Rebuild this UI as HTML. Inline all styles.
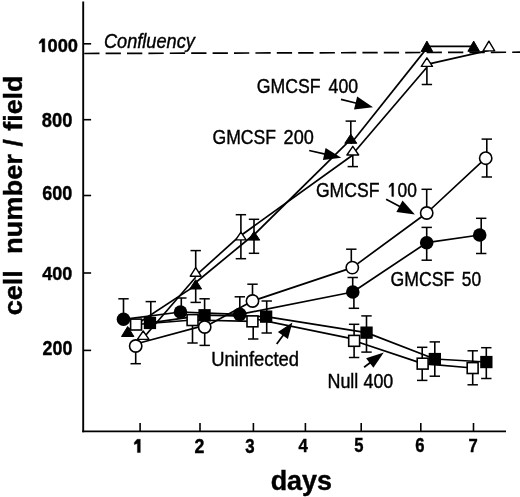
<!DOCTYPE html>
<html><head><meta charset="utf-8"><style>
html,body{margin:0;padding:0;background:#fff;}
svg{display:block;filter:grayscale(1);}
text{font-family:"Liberation Sans",sans-serif;fill:#000;stroke:#000;stroke-width:0.4px;font-kerning:none;}
</style></head><body>
<svg width="520" height="497" viewBox="0 0 520 497">
<rect width="520" height="497" fill="#fff"/>
<line x1="83.2" y1="1.5" x2="83.2" y2="432.2" stroke="#000" stroke-width="1.9"/>
<line x1="82.3" y1="431.4" x2="506.0" y2="431.4" stroke="#000" stroke-width="1.7"/>
<line x1="84.0" y1="43.8" x2="91.1" y2="43.8" stroke="#000" stroke-width="1.6"/>
<line x1="84.0" y1="119.7" x2="91.1" y2="119.7" stroke="#000" stroke-width="1.6"/>
<line x1="84.0" y1="195.5" x2="91.1" y2="195.5" stroke="#000" stroke-width="1.6"/>
<line x1="84.0" y1="273.0" x2="91.1" y2="273.0" stroke="#000" stroke-width="1.6"/>
<line x1="84.0" y1="350.4" x2="91.1" y2="350.4" stroke="#000" stroke-width="1.6"/>
<line x1="140.1" y1="423.0" x2="140.1" y2="431.0" stroke="#000" stroke-width="1.6"/>
<line x1="200.0" y1="423.0" x2="200.0" y2="431.0" stroke="#000" stroke-width="1.6"/>
<line x1="253.4" y1="423.0" x2="253.4" y2="431.0" stroke="#000" stroke-width="1.6"/>
<line x1="305.4" y1="423.0" x2="305.4" y2="431.0" stroke="#000" stroke-width="1.6"/>
<line x1="361.2" y1="423.0" x2="361.2" y2="431.0" stroke="#000" stroke-width="1.6"/>
<line x1="420.8" y1="423.0" x2="420.8" y2="431.0" stroke="#000" stroke-width="1.6"/>
<line x1="473.5" y1="423.0" x2="473.5" y2="431.0" stroke="#000" stroke-width="1.6"/>
<line x1="84.2" y1="53.5" x2="522" y2="52.2" stroke="#000" stroke-width="1.7" stroke-dasharray="15.3 6.1"/>
<line x1="127.7" y1="330.0" x2="195.7" y2="285.4" stroke="#000" stroke-width="1.7"/>
<line x1="195.7" y1="282.5" x2="254.0" y2="234.5" stroke="#000" stroke-width="1.7"/>
<line x1="254.0" y1="234.8" x2="350.8" y2="139.3" stroke="#000" stroke-width="1.7"/>
<line x1="350.8" y1="143.8" x2="426.9" y2="48.1" stroke="#000" stroke-width="1.7"/>
<line x1="426.9" y1="46.3" x2="473.7" y2="46.3" stroke="#000" stroke-width="1.7"/>
<line x1="143.1" y1="338.3" x2="195.7" y2="277.2" stroke="#000" stroke-width="1.7"/>
<line x1="195.7" y1="275.6" x2="240.9" y2="234.9" stroke="#000" stroke-width="1.7"/>
<line x1="240.9" y1="235.5" x2="352.8" y2="155.0" stroke="#000" stroke-width="1.7"/>
<line x1="352.8" y1="154.0" x2="426.9" y2="67.3" stroke="#000" stroke-width="1.7"/>
<line x1="426.9" y1="64.4" x2="488.9" y2="50.4" stroke="#000" stroke-width="1.7"/>
<line x1="135.7" y1="344.0" x2="204.7" y2="325.4" stroke="#000" stroke-width="1.7"/>
<polyline points="204.7,327.0 252.5,301.0 352.3,267.6 426.7,213.0 485.7,158.2" fill="none" stroke="#000" stroke-width="1.7" stroke-linejoin="round"/>
<polyline points="123.5,319.3 180.5,312.0 239.8,314.4 352.8,292.0 426.7,242.7 479.7,235.0" fill="none" stroke="#000" stroke-width="1.7" stroke-linejoin="round"/>
<polyline points="136.0,324.5 192.5,320.0 252.4,321.4" fill="none" stroke="#000" stroke-width="1.7" stroke-linejoin="round"/>
<line x1="252.4" y1="318.3" x2="354.1" y2="339.2" stroke="#000" stroke-width="1.7"/>
<polyline points="354.1,340.8 422.7,363.6 472.7,368.0" fill="none" stroke="#000" stroke-width="1.7" stroke-linejoin="round"/>
<polyline points="150.0,322.9 204.6,315.2 266.1,316.6 366.5,332.6 434.8,359.0 486.3,362.0" fill="none" stroke="#000" stroke-width="1.7" stroke-linejoin="round"/>
<line x1="195.7" y1="285.0" x2="195.7" y2="302.4" stroke="#000" stroke-width="1.6"/>
<line x1="190.5" y1="302.4" x2="200.9" y2="302.4" stroke="#000" stroke-width="1.5"/>
<line x1="254.0" y1="236.0" x2="254.0" y2="219.3" stroke="#000" stroke-width="1.6"/>
<line x1="248.8" y1="219.3" x2="259.2" y2="219.3" stroke="#000" stroke-width="1.5"/>
<line x1="254.0" y1="236.0" x2="254.0" y2="253.3" stroke="#000" stroke-width="1.6"/>
<line x1="248.8" y1="253.3" x2="259.2" y2="253.3" stroke="#000" stroke-width="1.5"/>
<line x1="350.8" y1="139.0" x2="350.8" y2="121.1" stroke="#000" stroke-width="1.6"/>
<line x1="345.6" y1="121.1" x2="356.0" y2="121.1" stroke="#000" stroke-width="1.5"/>
<line x1="195.7" y1="272.0" x2="195.7" y2="250.6" stroke="#000" stroke-width="1.6"/>
<line x1="190.5" y1="250.6" x2="200.9" y2="250.6" stroke="#000" stroke-width="1.5"/>
<line x1="240.9" y1="236.0" x2="240.9" y2="214.7" stroke="#000" stroke-width="1.6"/>
<line x1="235.7" y1="214.7" x2="246.1" y2="214.7" stroke="#000" stroke-width="1.5"/>
<line x1="240.9" y1="236.0" x2="240.9" y2="258.7" stroke="#000" stroke-width="1.6"/>
<line x1="235.7" y1="258.7" x2="246.1" y2="258.7" stroke="#000" stroke-width="1.5"/>
<line x1="352.8" y1="150.0" x2="352.8" y2="166.6" stroke="#000" stroke-width="1.6"/>
<line x1="347.6" y1="166.6" x2="358.0" y2="166.6" stroke="#000" stroke-width="1.5"/>
<line x1="426.9" y1="62.0" x2="426.9" y2="84.5" stroke="#000" stroke-width="1.6"/>
<line x1="421.7" y1="84.5" x2="432.1" y2="84.5" stroke="#000" stroke-width="1.5"/>
<line x1="135.7" y1="346.0" x2="135.7" y2="363.7" stroke="#000" stroke-width="1.6"/>
<line x1="130.5" y1="363.7" x2="140.9" y2="363.7" stroke="#000" stroke-width="1.5"/>
<line x1="204.7" y1="327.0" x2="204.7" y2="345.4" stroke="#000" stroke-width="1.6"/>
<line x1="199.5" y1="345.4" x2="209.9" y2="345.4" stroke="#000" stroke-width="1.5"/>
<line x1="252.5" y1="301.0" x2="252.5" y2="284.2" stroke="#000" stroke-width="1.6"/>
<line x1="247.3" y1="284.2" x2="257.7" y2="284.2" stroke="#000" stroke-width="1.5"/>
<line x1="351.3" y1="267.8" x2="351.3" y2="249.2" stroke="#000" stroke-width="1.6"/>
<line x1="346.1" y1="249.2" x2="356.5" y2="249.2" stroke="#000" stroke-width="1.5"/>
<line x1="426.7" y1="213.0" x2="426.7" y2="189.3" stroke="#000" stroke-width="1.6"/>
<line x1="421.5" y1="189.3" x2="431.9" y2="189.3" stroke="#000" stroke-width="1.5"/>
<line x1="486.8" y1="158.2" x2="486.8" y2="139.1" stroke="#000" stroke-width="1.6"/>
<line x1="481.6" y1="139.1" x2="492.0" y2="139.1" stroke="#000" stroke-width="1.5"/>
<line x1="486.8" y1="158.2" x2="486.8" y2="177.0" stroke="#000" stroke-width="1.6"/>
<line x1="481.6" y1="177.0" x2="492.0" y2="177.0" stroke="#000" stroke-width="1.5"/>
<line x1="123.5" y1="319.3" x2="123.5" y2="298.8" stroke="#000" stroke-width="1.6"/>
<line x1="118.3" y1="298.8" x2="128.7" y2="298.8" stroke="#000" stroke-width="1.5"/>
<line x1="181.3" y1="312.0" x2="181.3" y2="298.0" stroke="#000" stroke-width="1.6"/>
<line x1="176.1" y1="298.0" x2="186.5" y2="298.0" stroke="#000" stroke-width="1.5"/>
<line x1="239.8" y1="314.4" x2="239.8" y2="296.8" stroke="#000" stroke-width="1.6"/>
<line x1="234.6" y1="296.8" x2="245.0" y2="296.8" stroke="#000" stroke-width="1.5"/>
<line x1="352.7" y1="292.0" x2="352.7" y2="277.5" stroke="#000" stroke-width="1.6"/>
<line x1="347.5" y1="277.5" x2="357.9" y2="277.5" stroke="#000" stroke-width="1.5"/>
<line x1="353.9" y1="292.0" x2="353.9" y2="308.3" stroke="#000" stroke-width="1.6"/>
<line x1="348.7" y1="308.3" x2="359.1" y2="308.3" stroke="#000" stroke-width="1.5"/>
<line x1="426.7" y1="242.7" x2="426.7" y2="227.4" stroke="#000" stroke-width="1.6"/>
<line x1="421.5" y1="227.4" x2="431.9" y2="227.4" stroke="#000" stroke-width="1.5"/>
<line x1="426.7" y1="242.7" x2="426.7" y2="260.2" stroke="#000" stroke-width="1.6"/>
<line x1="421.5" y1="260.2" x2="431.9" y2="260.2" stroke="#000" stroke-width="1.5"/>
<line x1="481.2" y1="235.0" x2="481.2" y2="218.3" stroke="#000" stroke-width="1.6"/>
<line x1="476.0" y1="218.3" x2="486.4" y2="218.3" stroke="#000" stroke-width="1.5"/>
<line x1="481.2" y1="235.0" x2="481.2" y2="253.5" stroke="#000" stroke-width="1.6"/>
<line x1="476.0" y1="253.5" x2="486.4" y2="253.5" stroke="#000" stroke-width="1.5"/>
<line x1="192.5" y1="320.0" x2="192.5" y2="343.0" stroke="#000" stroke-width="1.6"/>
<line x1="187.3" y1="343.0" x2="197.7" y2="343.0" stroke="#000" stroke-width="1.5"/>
<line x1="253.2" y1="321.4" x2="253.2" y2="339.0" stroke="#000" stroke-width="1.6"/>
<line x1="248.0" y1="339.0" x2="258.4" y2="339.0" stroke="#000" stroke-width="1.5"/>
<line x1="354.1" y1="340.8" x2="354.1" y2="324.3" stroke="#000" stroke-width="1.6"/>
<line x1="348.9" y1="324.3" x2="359.3" y2="324.3" stroke="#000" stroke-width="1.5"/>
<line x1="354.1" y1="340.8" x2="354.1" y2="357.5" stroke="#000" stroke-width="1.6"/>
<line x1="348.9" y1="357.5" x2="359.3" y2="357.5" stroke="#000" stroke-width="1.5"/>
<line x1="422.2" y1="363.6" x2="422.2" y2="347.3" stroke="#000" stroke-width="1.6"/>
<line x1="417.0" y1="347.3" x2="427.4" y2="347.3" stroke="#000" stroke-width="1.5"/>
<line x1="422.2" y1="363.6" x2="422.2" y2="380.4" stroke="#000" stroke-width="1.6"/>
<line x1="417.0" y1="380.4" x2="427.4" y2="380.4" stroke="#000" stroke-width="1.5"/>
<line x1="472.7" y1="368.0" x2="472.7" y2="350.8" stroke="#000" stroke-width="1.6"/>
<line x1="467.5" y1="350.8" x2="477.9" y2="350.8" stroke="#000" stroke-width="1.5"/>
<line x1="472.7" y1="368.0" x2="472.7" y2="384.8" stroke="#000" stroke-width="1.6"/>
<line x1="467.5" y1="384.8" x2="477.9" y2="384.8" stroke="#000" stroke-width="1.5"/>
<line x1="150.8" y1="322.9" x2="150.8" y2="301.6" stroke="#000" stroke-width="1.6"/>
<line x1="145.6" y1="301.6" x2="156.0" y2="301.6" stroke="#000" stroke-width="1.5"/>
<line x1="204.6" y1="315.2" x2="204.6" y2="298.8" stroke="#000" stroke-width="1.6"/>
<line x1="199.4" y1="298.8" x2="209.8" y2="298.8" stroke="#000" stroke-width="1.5"/>
<line x1="266.7" y1="316.6" x2="266.7" y2="301.0" stroke="#000" stroke-width="1.6"/>
<line x1="261.5" y1="301.0" x2="271.9" y2="301.0" stroke="#000" stroke-width="1.5"/>
<line x1="266.7" y1="316.6" x2="266.7" y2="333.0" stroke="#000" stroke-width="1.6"/>
<line x1="261.5" y1="333.0" x2="271.9" y2="333.0" stroke="#000" stroke-width="1.5"/>
<line x1="366.5" y1="332.6" x2="366.5" y2="315.9" stroke="#000" stroke-width="1.6"/>
<line x1="361.3" y1="315.9" x2="371.7" y2="315.9" stroke="#000" stroke-width="1.5"/>
<line x1="366.5" y1="332.6" x2="366.5" y2="352.1" stroke="#000" stroke-width="1.6"/>
<line x1="361.3" y1="352.1" x2="371.7" y2="352.1" stroke="#000" stroke-width="1.5"/>
<line x1="434.8" y1="359.0" x2="434.8" y2="341.9" stroke="#000" stroke-width="1.6"/>
<line x1="429.6" y1="341.9" x2="440.0" y2="341.9" stroke="#000" stroke-width="1.5"/>
<line x1="434.8" y1="359.0" x2="434.8" y2="376.2" stroke="#000" stroke-width="1.6"/>
<line x1="429.6" y1="376.2" x2="440.0" y2="376.2" stroke="#000" stroke-width="1.5"/>
<line x1="486.3" y1="362.0" x2="486.3" y2="347.7" stroke="#000" stroke-width="1.6"/>
<line x1="481.1" y1="347.7" x2="491.5" y2="347.7" stroke="#000" stroke-width="1.5"/>
<line x1="486.3" y1="362.0" x2="486.3" y2="378.5" stroke="#000" stroke-width="1.6"/>
<line x1="481.1" y1="378.5" x2="491.5" y2="378.5" stroke="#000" stroke-width="1.5"/>
<circle cx="123.5" cy="319.3" r="6.80" fill="#000"/>
<circle cx="180.5" cy="312.0" r="6.80" fill="#000"/>
<circle cx="239.8" cy="314.4" r="6.80" fill="#000"/>
<circle cx="352.8" cy="292.0" r="6.80" fill="#000"/>
<circle cx="426.7" cy="242.7" r="6.80" fill="#000"/>
<circle cx="479.7" cy="235.0" r="6.80" fill="#000"/>
<polygon points="127.7,326.5 133.9,336.5 121.5,336.5" fill="#000" stroke="#000" stroke-width="1" stroke-linejoin="round"/>
<polygon points="195.7,279.7 201.6,289.0 189.8,289.0" fill="#000" stroke="#000" stroke-width="1" stroke-linejoin="round"/>
<polygon points="254.0,231.5 259.8,240.1 248.2,240.1" fill="#000" stroke="#000" stroke-width="1" stroke-linejoin="round"/>
<polygon points="350.8,134.2 356.8,143.3 344.8,143.3" fill="#000" stroke="#000" stroke-width="1" stroke-linejoin="round"/>
<polygon points="426.9,41.1 432.7,51.5 421.1,51.5" fill="#000" stroke="#000" stroke-width="1" stroke-linejoin="round"/>
<polygon points="473.7,41.1 479.5,51.3 467.9,51.3" fill="#000" stroke="#000" stroke-width="1" stroke-linejoin="round"/>
<rect x="143.8" y="316.8" width="12.3" height="12.3" fill="#000"/>
<rect x="198.4" y="309.1" width="12.3" height="12.3" fill="#000"/>
<rect x="260.0" y="310.5" width="12.3" height="12.3" fill="#000"/>
<rect x="360.4" y="326.5" width="12.3" height="12.3" fill="#000"/>
<rect x="428.7" y="352.9" width="12.3" height="12.3" fill="#000"/>
<rect x="480.2" y="355.9" width="12.3" height="12.3" fill="#000"/>
<rect x="130.6" y="319.1" width="10.9" height="10.9" fill="#fff" stroke="#000" stroke-width="1.6"/>
<rect x="187.1" y="314.6" width="10.9" height="10.9" fill="#fff" stroke="#000" stroke-width="1.6"/>
<rect x="247.0" y="315.9" width="10.9" height="10.9" fill="#fff" stroke="#000" stroke-width="1.6"/>
<rect x="348.7" y="335.4" width="10.9" height="10.9" fill="#fff" stroke="#000" stroke-width="1.6"/>
<rect x="417.2" y="358.2" width="10.9" height="10.9" fill="#fff" stroke="#000" stroke-width="1.6"/>
<rect x="467.2" y="362.6" width="10.9" height="10.9" fill="#fff" stroke="#000" stroke-width="1.6"/>
<circle cx="135.7" cy="346.0" r="6.15" fill="#fff" stroke="#000" stroke-width="1.6"/>
<circle cx="204.7" cy="327.0" r="6.15" fill="#fff" stroke="#000" stroke-width="1.6"/>
<circle cx="252.5" cy="301.0" r="6.15" fill="#fff" stroke="#000" stroke-width="1.6"/>
<circle cx="352.3" cy="267.6" r="6.15" fill="#fff" stroke="#000" stroke-width="1.6"/>
<circle cx="426.7" cy="213.0" r="6.15" fill="#fff" stroke="#000" stroke-width="1.6"/>
<circle cx="485.7" cy="158.2" r="6.15" fill="#fff" stroke="#000" stroke-width="1.6"/>
<polygon points="143.2,331.0 149.0,339.4 137.4,339.4" fill="#fff" stroke="#000" stroke-width="1.4" stroke-linejoin="round"/>
<polygon points="195.7,267.6 201.1,276.2 190.3,276.2" fill="#fff" stroke="#000" stroke-width="1.4" stroke-linejoin="round"/>
<polygon points="240.9,232.2 246.1,239.9 235.7,239.9" fill="#fff" stroke="#000" stroke-width="1.4" stroke-linejoin="round"/>
<polygon points="352.8,146.3 358.7,155.0 346.9,155.0" fill="#fff" stroke="#000" stroke-width="1.4" stroke-linejoin="round"/>
<polygon points="426.9,57.8 432.5,66.4 421.3,66.4" fill="#fff" stroke="#000" stroke-width="1.4" stroke-linejoin="round"/>
<polygon points="488.9,41.2 494.7,50.9 483.1,50.9" fill="#fff" stroke="#000" stroke-width="1.4" stroke-linejoin="round"/>
<line x1="341.0" y1="99.4" x2="357.6" y2="103.5" stroke="#000" stroke-width="1.7"/>
<polygon points="373.0,107.3 354.0,109.4 357.2,96.6" fill="#000"/>
<line x1="309.2" y1="150.5" x2="326.2" y2="154.4" stroke="#000" stroke-width="1.7"/>
<polygon points="341.3,157.8 322.9,159.9 325.6,148.0" fill="#000"/>
<line x1="386.1" y1="199.3" x2="401.2" y2="207.3" stroke="#000" stroke-width="1.7"/>
<polygon points="414.9,214.6 396.4,212.1 402.5,200.6" fill="#000"/>
<line x1="276.7" y1="344.1" x2="284.1" y2="333.9" stroke="#000" stroke-width="1.7"/>
<polygon points="292.4,322.4 287.9,339.1 277.9,331.9" fill="#000"/>
<line x1="364.1" y1="367.3" x2="371.4" y2="361.8" stroke="#000" stroke-width="1.7"/>
<polygon points="383.8,352.4 373.4,367.8 366.1,358.2" fill="#000"/>
<polygon points="140.3,439.3 140.3,452.6 137.4,452.6 137.4,443.4 134.3,444.6 134.3,442.6 137.1,439.3" fill="#000" stroke="#000" stroke-width="0.4" stroke-linejoin="round"/>
<polygon points="44.8,38.8 44.8,52.0 42.1,52.0 42.1,42.3 39.2,43.8 39.2,42.1 41.8,38.8" fill="#000" stroke="#000" stroke-width="0.4" stroke-linejoin="round"/>
<polygon points="393.6,183.1 393.6,196.4 391.8,196.4 391.8,185.6 389.1,187.6 389.1,186.0 391.6,183.1" fill="#000" stroke="#000" stroke-width="0.4" stroke-linejoin="round"/>
<text x="47.48" y="51.91" font-size="19.23" font-weight="bold" font-style="normal" textLength="30.49" lengthAdjust="spacingAndGlyphs" xml:space="preserve">000</text>
<text x="41.79" y="126.84" font-size="20.23" font-weight="bold" font-style="normal" textLength="30.57" lengthAdjust="spacingAndGlyphs" xml:space="preserve">800</text>
<text x="42.17" y="199.68" font-size="19.48" font-weight="bold" font-style="normal" textLength="30.08" lengthAdjust="spacingAndGlyphs" xml:space="preserve">600</text>
<text x="42.23" y="279.80" font-size="18.77" font-weight="bold" font-style="normal" textLength="30.01" lengthAdjust="spacingAndGlyphs" xml:space="preserve">400</text>
<text x="42.55" y="354.55" font-size="19.50" font-weight="bold" font-style="normal" textLength="29.78" lengthAdjust="spacingAndGlyphs" xml:space="preserve">200</text>
<text x="194.49" y="452.86" font-size="19.42" font-weight="bold" font-style="normal" textLength="9.88" lengthAdjust="spacingAndGlyphs" xml:space="preserve">2</text>
<text x="245.27" y="452.63" font-size="19.96" font-weight="bold" font-style="normal" textLength="9.36" lengthAdjust="spacingAndGlyphs" xml:space="preserve">3</text>
<text x="298.55" y="451.80" font-size="18.62" font-weight="bold" font-style="normal" textLength="9.34" lengthAdjust="spacingAndGlyphs" xml:space="preserve">4</text>
<text x="354.23" y="451.77" font-size="19.65" font-weight="bold" font-style="normal" textLength="9.24" lengthAdjust="spacingAndGlyphs" xml:space="preserve">5</text>
<text x="415.27" y="451.53" font-size="19.84" font-weight="bold" font-style="normal" textLength="9.27" lengthAdjust="spacingAndGlyphs" xml:space="preserve">6</text>
<text x="468.39" y="451.50" font-size="18.62" font-weight="bold" font-style="normal" textLength="9.24" lengthAdjust="spacingAndGlyphs" xml:space="preserve">7</text>
<text x="256.83" y="93.14" font-size="19.32" font-weight="normal" font-style="normal" textLength="63.71" lengthAdjust="spacingAndGlyphs" xml:space="preserve">GMCSF</text>
<text x="328.59" y="93.00" font-size="19.35" font-weight="normal" font-style="normal" textLength="29.50" lengthAdjust="spacingAndGlyphs" xml:space="preserve">400</text>
<text x="212.52" y="143.60" font-size="19.63" font-weight="normal" font-style="normal" textLength="63.49" lengthAdjust="spacingAndGlyphs" xml:space="preserve">GMCSF</text>
<text x="283.59" y="143.60" font-size="19.63" font-weight="normal" font-style="normal" textLength="30.22" lengthAdjust="spacingAndGlyphs" xml:space="preserve">200</text>
<text x="315.95" y="196.72" font-size="19.55" font-weight="normal" font-style="normal" textLength="63.46" lengthAdjust="spacingAndGlyphs" xml:space="preserve">GMCSF</text>
<text x="397.52" y="196.70" font-size="20.37" font-weight="normal" font-style="normal" textLength="19.37" lengthAdjust="spacingAndGlyphs" xml:space="preserve">00</text>
<text x="390.51" y="286.10" font-size="19.92" font-weight="normal" font-style="normal" textLength="63.69" lengthAdjust="spacingAndGlyphs" xml:space="preserve">GMCSF</text>
<text x="461.84" y="286.30" font-size="20.30" font-weight="normal" font-style="normal" textLength="19.33" lengthAdjust="spacingAndGlyphs" xml:space="preserve">50</text>
<text x="211.14" y="365.77" font-size="20.07" font-weight="normal" font-style="normal" textLength="87.82" lengthAdjust="spacingAndGlyphs" xml:space="preserve">Uninfected</text>
<text x="327.44" y="387.54" font-size="20.34" font-weight="normal" font-style="normal" textLength="30.90" lengthAdjust="spacingAndGlyphs" xml:space="preserve">Null</text>
<text x="363.44" y="387.95" font-size="19.36" font-weight="normal" font-style="normal" textLength="29.84" lengthAdjust="spacingAndGlyphs" xml:space="preserve">400</text>
<text x="103.91" y="47.93" font-size="19.42" font-weight="normal" font-style="italic" textLength="90.90" lengthAdjust="spacingAndGlyphs" xml:space="preserve">Confluency</text>
<text x="270.67" y="489.56" font-size="26.80" font-weight="bold" font-style="normal" textLength="61.38" lengthAdjust="spacingAndGlyphs" xml:space="preserve">days</text>
<text transform="rotate(-90)" x="-315.30" y="21.78" font-size="25.31" font-weight="bold" font-style="normal" textLength="45.17" lengthAdjust="spacingAndGlyphs" xml:space="preserve">cell</text>
<text transform="rotate(-90)" x="-254.10" y="21.80" font-size="25.52" font-weight="bold" font-style="normal" textLength="100.01" lengthAdjust="spacingAndGlyphs" xml:space="preserve">number</text>
<text transform="rotate(-90)" x="-146.44" y="21.89" font-size="25.78" font-weight="bold" font-style="normal" textLength="7.29" lengthAdjust="spacingAndGlyphs" xml:space="preserve">/</text>
<text transform="rotate(-90)" x="-130.76" y="21.80" font-size="25.52" font-weight="bold" font-style="normal" textLength="55.13" lengthAdjust="spacingAndGlyphs" xml:space="preserve">field</text>
</svg>
</body></html>
